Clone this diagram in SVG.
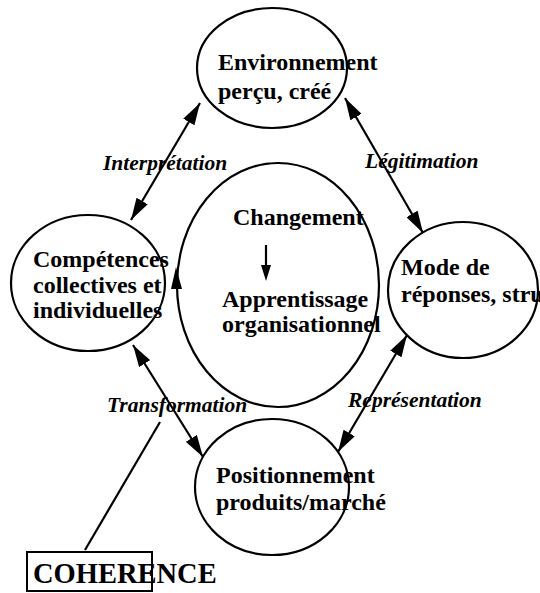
<svg xmlns="http://www.w3.org/2000/svg" width="540" height="593" viewBox="0 0 540 593">
<defs>
<marker id="ah" viewBox="0 0 22 13" refX="22" refY="6.5" markerUnits="userSpaceOnUse" markerWidth="22" markerHeight="13" orient="auto-start-reverse">
<path d="M0,0 L22,6.5 L0,13 z" fill="#000"/>
</marker>
<style>
.n{fill:#fff;stroke:#000;stroke-width:2.2}
.b{font-family:"Liberation Serif","Times New Roman",serif;font-weight:bold;font-size:24px;fill:#000}
.i{font-family:"Liberation Serif","Times New Roman",serif;font-weight:bold;font-style:italic;font-size:21.5px;fill:#000}
.c{stroke:#000;stroke-width:2.2;fill:none}
</style>
</defs>
<rect width="540" height="593" fill="#fff"/>
<g id="center">
<ellipse class="n" cx="278" cy="285" rx="101" ry="122"/>
<polygon points="176,267 171,289 182,289" fill="#000"/>
<text class="b" x="233" y="225">Changement</text>
<line class="c" x1="266" y1="245" x2="266" y2="268"/>
<polygon points="266,281 261,265 271,265" fill="#000"/>
<text class="b" x="222" y="307">Apprentissage</text>
<text class="b" x="222" y="332">organisationnel</text>
</g>
<g id="environnement">
<ellipse class="n" cx="272" cy="68" rx="75" ry="60"/>
<text class="b" x="218" y="70">Environnement</text>
<text class="b" x="218" y="99">perçu, créé</text>
</g>
<g id="competences">
<ellipse class="n" cx="88" cy="283" rx="77" ry="68"/>
<text class="b" x="33" y="267">Compétences</text>
<text class="b" x="33" y="293">collectives et</text>
<text class="b" x="33" y="318">individuelles</text>
</g>
<g id="mode">
<ellipse class="n" cx="463" cy="290" rx="75" ry="68"/>
<text class="b" x="401" y="275">Mode de</text>
<text class="b" x="401" y="302">réponses, stru</text>
</g>
<g id="positionnement">
<ellipse class="n" cx="272" cy="487" rx="77" ry="68"/>
<text class="b" x="216" y="483">Positionnement</text>
<text class="b" x="216" y="510">produits/marché</text>
</g>
<g id="coherence">
<rect x="27" y="552" width="125" height="39" fill="none" stroke="#000" stroke-width="2"/>
<text class="b" x="33" y="583" style="font-size:28.5px">COHERENCE</text>
</g>
<g id="connectors">
<line class="c" x1="131" y1="220" x2="200" y2="103" marker-start="url(#ah)" marker-end="url(#ah)"/>
<line class="c" x1="345" y1="98" x2="423" y2="233" marker-start="url(#ah)" marker-end="url(#ah)"/>
<line class="c" x1="133" y1="345" x2="203" y2="457" marker-start="url(#ah)" marker-end="url(#ah)"/>
<line class="c" x1="407" y1="335" x2="338" y2="452" marker-start="url(#ah)" marker-end="url(#ah)"/>
<line class="c" x1="160" y1="422" x2="85" y2="550"/>
<text class="i" x="103" y="170">Interprétation</text>
<text class="i" x="365" y="168">Légitimation</text>
<text class="i" x="107" y="412">Transformation</text>
<text class="i" x="348" y="407">Représentation</text>
</g>
</svg>
